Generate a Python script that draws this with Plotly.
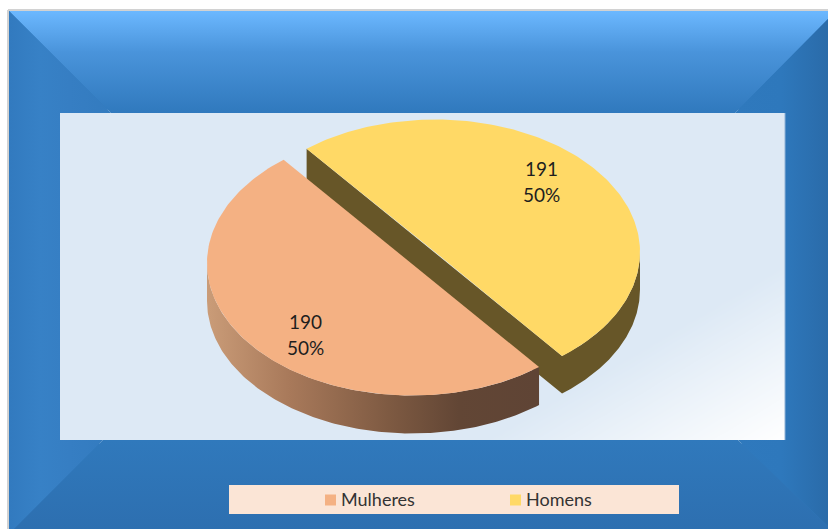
import numpy as np
import plotly.graph_objects as go

# ---- data ----
categories = ["Mulheres", "Homens"]
values = [190, 191]
top_colors = ["#F4B183", "#FFD966"]

W, H = 828, 529
FL, FT, FR, FB = 9, 11, 836, 534         # bevelled frame (runs past the page edge)
PX0, PX1, PY0, PY1 = 60, 785, 113, 440   # inner panel
A, B, DEPTH = 205, 132.5, 37.5           # pie ellipse radii, wall height
START_DEG = 51.7                         # where the first slice starts (clockwise)
CENTERS = [(412, 263), (435, 252)]       # exploded slice centres
LABEL_POS = [(305, 321.3), (541.5, 168.5)]
SWATCH_POS = [(330.5, 500), (515.5, 500)]

fig = go.Figure()


def poly(xs, ys, color=None, gradient=None):
    kw = {"fillgradient": gradient} if gradient else {"fillcolor": color}
    fig.add_trace(go.Scatter(x=list(xs), y=list(ys), mode="lines", fill="toself",
                             line=dict(width=0), hoverinfo="skip", showlegend=False, **kw))


def grad(kind, stops, start, stop):
    return dict(type=kind, colorscale=stops, start=start, stop=stop)


# ---- base under the frame, hides hairline seams between the bevels ----
fig.add_shape(type="rect", x0=FL, x1=FR, y0=FT, y1=FB, line_width=0, fillcolor="#3079BD", layer="below")

# ---- inner panel: pale blue with a white glow in the lower right corner ----
gx = np.linspace(PX0, PX1, 80)
gy = np.linspace(PY0, PY1, 50)
GX, GY = np.meshgrid(gx, gy)
s = 150 * GX + 255 * GY
s0, s1 = 185000, 150 * PX1 + 255 * PY1
fig.add_trace(go.Heatmap(x=gx, y=gy, z=np.clip((s - s0) / (s1 - s0), 0, 1), zmin=0, zmax=1,
                         zsmooth="best", showscale=False, hoverinfo="skip",
                         colorscale=[[0, "#DDE9F5"], [1, "#FFFFFF"]]))

# ---- bevelled frame ----
poly([FL, FR, 735, 111], [FT, FT, PY0, PY0],
     gradient=grad("vertical", [[0, "#6CB8FF"], [0.4, "#4A94DB"], [1, "#3079BD"]], FT, PY0))
poly([FL, 111, PX0, PX0, 103, FL], [FT, PY0, PY0, PY1, PY1, FB],
     gradient=grad("horizontal", [[0, "#327ABF"], [0.3, "#3781C6"], [0.6, "#367EC3"], [1, "#337BBF"]], FL, 111))
poly([FR, 735, PX1, PX1, 738, FR], [FT, PY0, PY0, PY1, PY1, FB],
     gradient=grad("horizontal", [[0, "#2F79BD"], [0.5, "#2E78BC"], [1, "#2A6BA9"]], 735, 828))
poly([FL, 103, 738, FR], [FB, PY1, PY1, FB],
     gradient=grad("vertical", [[0, "#3079BC"], [1, "#2D6FB0"]], PY1, H))

# ---- pie geometry comes from the values ----
frac = np.array(values) / sum(values)
edges = START_DEG + 360 * np.concatenate([[0], np.cumsum(frac)])


def rim(cx, cy, a0, a1):
    t = np.radians(np.linspace(a0, a1, 160))
    return cx + A * np.cos(t), cy + B * np.sin(t)


def sector(i):
    cx, cy = CENTERS[i]
    x, y = rim(cx, cy, edges[i], edges[i + 1])
    return cx, cy, x, y


# Homens: cut wall and outer wall as one piece, then the top
cx, cy, x, y = sector(1)
xo, yo = rim(cx, cy, edges[2], 360)
poly(np.r_[x[0], xo, xo[::-1], x[0]],
     np.r_[y[0], yo, yo[::-1] + DEPTH, y[0] + DEPTH], color="#675628")
poly(np.r_[x, cx], np.r_[y, cy], color=top_colors[1])

# Mulheres: outer wall with shading, top
cx, cy, x, y = sector(0)
xo, yo = rim(cx, cy, edges[0], 180)
poly(np.r_[xo, xo[::-1]], np.r_[yo, yo[::-1] + DEPTH + 0.5],
     gradient=dict(type="horizontal", start=207, stop=538,
                   colorscale=[[0, "#CA9C78"], [0.25, "#A8795A"], [0.55, "#7E5A42"],
                               [0.76, "#624635"], [1, "#5F4435"]]))
poly(np.r_[x, x[0]], np.r_[y, y[0]], color=top_colors[0])

# ---- legend band, swatches, names ----
poly([229, 679, 679, 229], [485, 485, 514, 514], color="#FBE5D6")
for name, color, (sx, sy) in zip(categories, top_colors, SWATCH_POS):
    fig.add_trace(go.Scatter(x=[sx], y=[sy], mode="markers", name=name,
                             marker=dict(symbol="square", size=11, color=color),
                             hoverinfo="skip", showlegend=False))
    fig.add_annotation(x=sx + 8, y=sy - 1.5, text=name, showarrow=False, xanchor="left", yanchor="middle",
                       font=dict(family="Lato", size=18, color="#333333"))

# ---- panel edge and outer rule ----
fig.add_shape(type="line", x0=PX1, x1=PX1, y0=PY0, y1=PY1, line=dict(color="#8FB2D6", width=1))
fig.add_shape(type="line", x0=FL - 1, x1=W, y0=FT - 1, y1=FT - 1, line=dict(color="#D2D2D2", width=2))
fig.add_shape(type="line", x0=FL - 1, x1=FL - 1, y0=FT - 1, y1=H, line=dict(color="#D2D2D2", width=2))

# ---- slice labels ----
for v, f, (lx, ly) in zip(values, frac, LABEL_POS):
    for text, dy in ((f"{v}", 0), (f"{round(f * 100)}%", 26)):
        fig.add_annotation(x=lx, y=ly + dy, text=text, showarrow=False, xanchor="center", yanchor="middle",
                           font=dict(family="Lato", size=19, color="#1E1E1E"))

fig.update_layout(width=W, height=H, margin=dict(l=0, r=0, t=0, b=0), autosize=False,
                  paper_bgcolor="white", plot_bgcolor="white", showlegend=False,
                  xaxis=dict(range=[0, W], visible=False, fixedrange=True),
                  yaxis=dict(range=[H, 0], visible=False, fixedrange=True))
fig.write_html("out.html", config={"displayModeBar": False},
               post_script="document.body.style.margin='0';document.body.style.overflow='hidden';")
